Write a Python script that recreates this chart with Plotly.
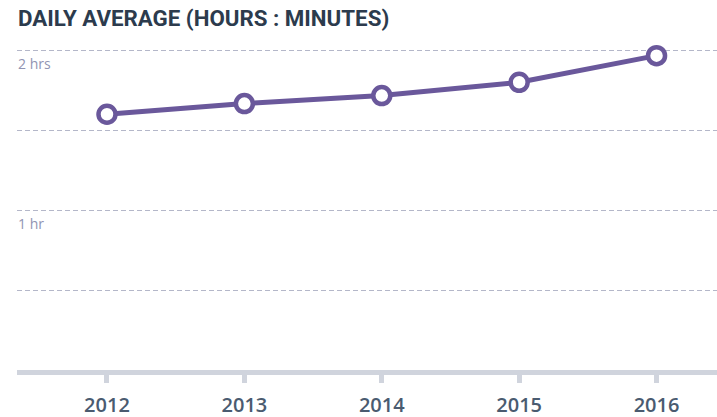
import plotly.graph_objects as go

years = ["2012", "2013", "2014", "2015", "2016"]
minutes = [96, 100, 103, 108, 118]
grid_minutes = [0, 30, 60, 90, 120]
hour_labels = {60: "1 hr", 120: "2 hrs"}

purple = "#6a589b"
W, H = 717, 417
fig = go.Figure()
fig.add_trace(go.Scatter(
    x=list(range(len(years))), y=minutes, mode="lines+markers",
    line=dict(color=purple, width=5),
    marker=dict(size=17, color="white", line=dict(color=purple, width=4.5)),
    cliponaxis=False, hoverinfo="skip",
))

for m, lab in hour_labels.items():
    fig.add_annotation(x=0, xref="paper", y=m, yref="y", text=lab, showarrow=False,
                       xanchor="left", yanchor="top", yshift=-2, xshift=-1,
                       font=dict(family="Open Sans", size=14, color="#9194b2"))

fig.add_annotation(x=0, xref="paper", y=1, yref="paper", text="<b>DAILY AVERAGE (HOURS : MINUTES)</b>",
                   showarrow=False, xanchor="left", yanchor="bottom", yshift=4, xshift=-1,
                   font=dict(family="Roboto", size=22.3, color="#2c3b4d"))

fig.update_layout(
    width=W, height=H, margin=dict(l=17, r=0, t=37, b=47, autoexpand=False),
    paper_bgcolor="white", plot_bgcolor="white", showlegend=False,
    xaxis=dict(range=[-0.655, 4.44], tickvals=list(range(len(years))), ticktext=years,
               showgrid=False, zeroline=False, showline=True, linecolor="#d0d4dd", linewidth=5,
               ticks="outside", ticklen=8, tickwidth=5, tickcolor="#d0d4dd",
               ticklabelstandoff=5, automargin=False,
               tickfont=dict(family="Open Sans", size=20, color="#4a5b70", weight=600),
               fixedrange=True),
    yaxis=dict(range=[0, 125], tickvals=grid_minutes, showticklabels=False, showgrid=True,
               gridcolor="#b4b7c9", griddash="5px,3px", gridwidth=1, zeroline=False,
               showline=False, automargin=False, fixedrange=True),
)
fig.write_html("out.html", config={"displayModeBar": False, "staticPlot": True},
               post_script="document.body.style.margin='0';document.body.style.overflow='hidden';")
